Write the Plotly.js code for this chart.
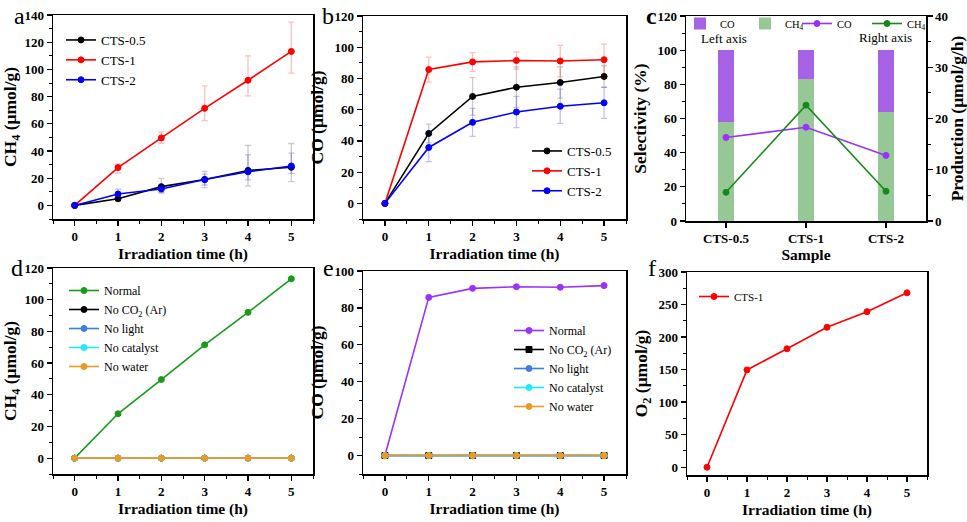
<!DOCTYPE html>
<html>
<head>
<meta charset="utf-8">
<script src="https://cdn.plot.ly/plotly-3.0.1.min.js"></script>
<style>html,body{margin:0;padding:0;background:#fff;}#chart{width:967px;height:522px;}</style>
</head>
<body>
<div id="chart"></div>
<script>
// ---------------- DATA ----------------
const hours = [0, 1, 2, 3, 4, 5];

// (a) CH4 evolution
const ch4_cts05 = [0, 4.9, 13.8, 19.0, 25.7, 28.0];
const ch4_cts05_errPlus = [0, 2, 6, 6, 18.5, 17.5];
const ch4_cts05_errMinus = [0, 2, 4, 6, 11.5, 10.5];
const ch4_cts1 = [0, 27.8, 49.6, 71.4, 92.0, 113.2];
const ch4_cts1_errPlus = [0, 2.5, 4.5, 16.5, 18, 21.5];
const ch4_cts1_errMinus = [0, 4, 4, 9, 11.5, 16];
const ch4_cts2 = [0, 8.4, 12.1, 19.0, 24.7, 29.0];
const ch4_cts2_errPlus = [0, 3.5, 3, 4, 12.5, 9.5];
const ch4_cts2_errMinus = [0, 3, 3, 4, 6, 5.5];

// (b) CO evolution
const co_cts05 = [0, 44.8, 68.5, 74.4, 77.4, 81.3];
const co_cts05_err = [0, 6, 12, 13, 10, 7];
const co_cts1 = [0, 85.7, 90.6, 91.5, 91.2, 92.0];
const co_cts1_err = [0, 8, 6, 5.5, 10, 10];
const co_cts2 = [0, 35.8, 51.9, 58.5, 62.2, 64.4];
const co_cts2_err = [0, 9, 9, 10, 11, 10];

// (c) selectivity & production rate
const samples = ['CTS-0.5', 'CTS-1', 'CTS-2'];
const selCH4 = [58, 83, 64];
const selCO = [42, 17, 36];
const rateCO = [16.3, 18.3, 12.8];
const rateCH4 = [5.6, 22.6, 5.8];

// (d) CH4 control experiments
const d_normal = [0, 28.0, 49.6, 71.5, 92.0, 113.2];
const d_noCO2 = [0, 0, 0, 0, 0, 0];
const d_noLight = [0, 0, 0, 0, 0, 0];
const d_noCatalyst = [0, 0, 0, 0, 0, 0];
const d_noWater = [0, 0, 0, 0, 0, 0];

// (e) CO control experiments
const e_normal = [0, 85.7, 90.6, 91.5, 91.2, 92.1];
const e_noCO2 = [0, 0, 0, 0, 0, 0];
const e_noLight = [0, 0, 0, 0, 0, 0];
const e_noCatalyst = [0, 0, 0, 0, 0, 0];
const e_noWater = [0, 0, 0, 0, 0, 0];

// (f) O2 evolution
const o2_cts1 = [0, 149.5, 182.0, 215.0, 239.0, 268.0];

// ---------------- STYLE ----------------
const FONT = 'Liberation Serif, Times New Roman, serif';
const W = 967, H = 522;
const px = v => v / W;
const py = v => 1 - v / H;

function line(x, y, name, color, opts) {
  opts = opts || {};
  const t = {
    type: 'scatter', mode: 'lines+markers', x: x, y: y, name: name,
    line: {color: color, width: 1.6},
    marker: {symbol: opts.symbol || 'circle', size: 6, color: color, line: {color: color, width: 1}},
    xaxis: opts.xaxis, yaxis: opts.yaxis, legend: opts.legend
  };
  if (opts.err) t.error_y = opts.err;
  return t;
}
function err(plus, minus, rgba) {
  return {type: 'data', symmetric: minus ? false : true, array: plus, arrayminus: minus || plus,
          color: rgba, thickness: 1.3, width: 3};
}

const WATER = '#eb9a28';
const traces = [];
// a
traces.push(line(hours, ch4_cts05, 'CTS-0.5', '#000000', {xaxis: 'x', yaxis: 'y', legend: 'legend', err: err(ch4_cts05_errPlus, ch4_cts05_errMinus, 'rgba(80,80,80,0.3)')}));
traces.push(line(hours, ch4_cts1, 'CTS-1', '#ff0000', {xaxis: 'x', yaxis: 'y', legend: 'legend', err: err(ch4_cts1_errPlus, ch4_cts1_errMinus, 'rgba(255,0,0,0.25)')}));
traces.push(line(hours, ch4_cts2, 'CTS-2', '#0000ff', {xaxis: 'x', yaxis: 'y', legend: 'legend', err: err(ch4_cts2_errPlus, ch4_cts2_errMinus, 'rgba(0,0,255,0.25)')}));
// b
traces.push(line(hours, co_cts05, 'CTS-0.5', '#000000', {xaxis: 'x2', yaxis: 'y2', legend: 'legend2', err: err(co_cts05_err, null, 'rgba(80,80,80,0.3)')}));
traces.push(line(hours, co_cts1, 'CTS-1', '#ff0000', {xaxis: 'x2', yaxis: 'y2', legend: 'legend2', err: err(co_cts1_err, null, 'rgba(255,0,0,0.25)')}));
traces.push(line(hours, co_cts2, 'CTS-2', '#0000ff', {xaxis: 'x2', yaxis: 'y2', legend: 'legend2', err: err(co_cts2_err, null, 'rgba(0,0,255,0.25)')}));
// c bars (stacked)
traces.push({type: 'bar', x: samples, y: selCH4, name: 'CH<sub>4</sub>', marker: {color: '#96c896'}, width: 0.2, xaxis: 'x3', yaxis: 'y3', legend: 'legend3'});
traces.push({type: 'bar', x: samples, y: selCO, name: 'CO', marker: {color: '#a862e6'}, width: 0.2, xaxis: 'x3', yaxis: 'y3', legend: 'legend3'});
// c lines (right axis)
traces.push(line(samples, rateCO, 'CO', '#9b30ff', {xaxis: 'x3', yaxis: 'y7', legend: 'legend4'}));
traces.push(line(samples, rateCH4, 'CH<sub>4</sub>', '#168a16', {xaxis: 'x3', yaxis: 'y7', legend: 'legend4'}));
// d
traces.push(line(hours, d_normal, 'Normal', '#1a9a1a', {xaxis: 'x4', yaxis: 'y4', legend: 'legend5'}));
traces.push(line(hours, d_noCO2, 'No CO<sub>2</sub> (Ar)', '#000000', {xaxis: 'x4', yaxis: 'y4', legend: 'legend5'}));
traces.push(line(hours, d_noLight, 'No light', '#3d7fe0', {xaxis: 'x4', yaxis: 'y4', legend: 'legend5'}));
traces.push(line(hours, d_noCatalyst, 'No catalyst', '#22e8ff', {xaxis: 'x4', yaxis: 'y4', legend: 'legend5'}));
traces.push(line(hours, d_noWater, 'No water', WATER, {xaxis: 'x4', yaxis: 'y4', legend: 'legend5'}));
// e
traces.push(line(hours, e_normal, 'Normal', '#9b30ff', {xaxis: 'x5', yaxis: 'y5', legend: 'legend6'}));
traces.push(line(hours, e_noCO2, 'No CO<sub>2</sub> (Ar)', '#000000', {xaxis: 'x5', yaxis: 'y5', legend: 'legend6', symbol: 'square'}));
traces.push(line(hours, e_noLight, 'No light', '#3d7fe0', {xaxis: 'x5', yaxis: 'y5', legend: 'legend6'}));
traces.push(line(hours, e_noCatalyst, 'No catalyst', '#22e8ff', {xaxis: 'x5', yaxis: 'y5', legend: 'legend6'}));
traces.push(line(hours, e_noWater, 'No water', WATER, {xaxis: 'x5', yaxis: 'y5', legend: 'legend6'}));
// f
traces.push(line(hours, o2_cts1, 'CTS-1', '#ff0000', {xaxis: 'x6', yaxis: 'y6', legend: 'legend7'}));

const tickFont = {family: FONT, size: 13, color: '#000', weight: 'bold'};
const xTitleFont = {family: FONT, size: 15.5, color: '#000', weight: 'bold'};
const yTitleFont = {family: FONT, size: 17.5, color: '#000', weight: 'bold'};

function xAx(dom, anchor, title, extra) {
  return Object.assign({
    domain: dom, anchor: anchor, range: [-0.5, 5.5], tickvals: [0, 1, 2, 3, 4, 5],
    showline: true, linecolor: '#000', linewidth: 1.5, mirror: true,
    ticks: 'outside', ticklen: 5, tickwidth: 1.3, tickcolor: '#000',
    minor: {tickvals: [-0.5, 0.5, 1.5, 2.5, 3.5, 4.5, 5.5], ticks: 'outside', ticklen: 3, tickwidth: 1, tickcolor: '#000'},
    showgrid: false, zeroline: false, tickfont: tickFont,
    title: {text: title, font: xTitleFont, standoff: 5}
  }, extra || {});
}
function yAx(dom, anchor, range, dtick, title, extra) {
  return Object.assign({
    domain: dom, anchor: anchor, range: range, tick0: 0, dtick: dtick,
    showline: true, linecolor: '#000', linewidth: 1.5, mirror: true,
    ticks: 'outside', ticklen: 5, tickwidth: 1.3, tickcolor: '#000',
    minor: {dtick: dtick / 2, tick0: 0, ticks: 'outside', ticklen: 3, tickwidth: 1, tickcolor: '#000'},
    showgrid: false, zeroline: false, tickfont: tickFont,
    title: {text: title, font: yTitleFont, standoff: 6}
  }, extra || {});
}

function legendAt(x, y, size, extra) {
  return Object.assign({x: x, y: y, xanchor: 'left', yanchor: 'top', bgcolor: 'rgba(0,0,0,0)',
    font: {family: FONT, size: size, color: '#000'}, tracegroupgap: 0, itemwidth: 30}, extra || {});
}
function note(text, x, y, size, extra) {
  return Object.assign({text: text, x: px(x), y: py(y), xref: 'paper', yref: 'paper', showarrow: false,
    xanchor: 'center', yanchor: 'middle', font: {family: FONT, size: size, color: '#000'}}, extra || {});
}

const layout = {
  width: W, height: H,
  margin: {l: 0, r: 0, t: 0, b: 0},
  paper_bgcolor: '#fff', plot_bgcolor: '#fff',
  barmode: 'stack', bargap: 0.8,
  font: {family: FONT, color: '#000'},
  showlegend: true,
  xaxis: xAx([px(53), px(313)], 'y', 'Irradiation time (h)'),
  yaxis: yAx([py(219), py(15)], 'x', [-10, 140], 20, 'CH<sub>4</sub> (μmol/g)'),
  xaxis2: xAx([px(363), px(626)], 'y2', 'Irradiation time (h)'),
  yaxis2: yAx([py(219), py(16)], 'x2', [-10, 120], 20, 'CO (μmol/g)'),
  xaxis3: {domain: [px(686), px(926)], anchor: 'y3', type: 'category', range: [-0.5, 2.5],
    showline: true, linecolor: '#000', linewidth: 1.5, mirror: true,
    ticks: 'outside', ticklen: 5, tickwidth: 1.3, tickcolor: '#000', showgrid: false, zeroline: false,
    tickfont: tickFont, title: {text: 'Sample', font: xTitleFont, standoff: 0}},
  yaxis3: yAx([py(221), py(16)], 'x3', [0, 120], 20, 'Selectivity (%)', {mirror: false}),
  yaxis7: yAx([py(221), py(16)], 'x3', [0, 40], 10, 'Production (μmol/g/h)', {overlaying: 'y3', side: 'right', mirror: false}),
  xaxis4: xAx([px(53), px(313)], 'y4', 'Irradiation time (h)'),
  yaxis4: yAx([py(474), py(268)], 'x4', [-10, 120], 20, 'CH<sub>4</sub> (μmol/g)'),
  xaxis5: xAx([px(363), px(626)], 'y5', 'Irradiation time (h)'),
  yaxis5: yAx([py(474), py(271)], 'x5', [-10, 100], 20, 'CO (μmol/g)'),
  xaxis6: xAx([px(687), px(927)], 'y6', 'Irradiation time (h)'),
  yaxis6: yAx([py(475), py(272)], 'x6', [-12, 300], 50, 'O<sub>2</sub> (μmol/g)'),
  legend: legendAt(px(61), py(25), 13),
  legend2: legendAt(px(527), py(136), 13),
  legend3: legendAt(px(680), py(9), 10.5, {orientation: 'h', traceorder: 'reversed', entrywidth: 20}),
  legend4: legendAt(px(937), py(9), 10.5, {orientation: 'h', xanchor: 'right', entrywidth: 25}),
  legend5: legendAt(px(64), py(276), 12),
  legend6: legendAt(px(509), py(316), 12),
  legend7: legendAt(px(694), py(282), 11),
  annotations: [
    note('a', 19, 16, 24),
    note('b', 328, 16, 24),
    note('c', 651, 16, 24, {font: {family: FONT, size: 24, color: '#000', weight: 'bold'}}),
    note('d', 17, 268, 24),
    note('e', 328, 268, 24),
    note('f', 652, 268, 24),
    note('Left axis', 724, 39, 13),
    note('Right axis', 885, 38, 13)
  ]
};

Plotly.newPlot('chart', traces, layout, {staticPlot: true, displayModeBar: false});
</script>
</body>
</html>
